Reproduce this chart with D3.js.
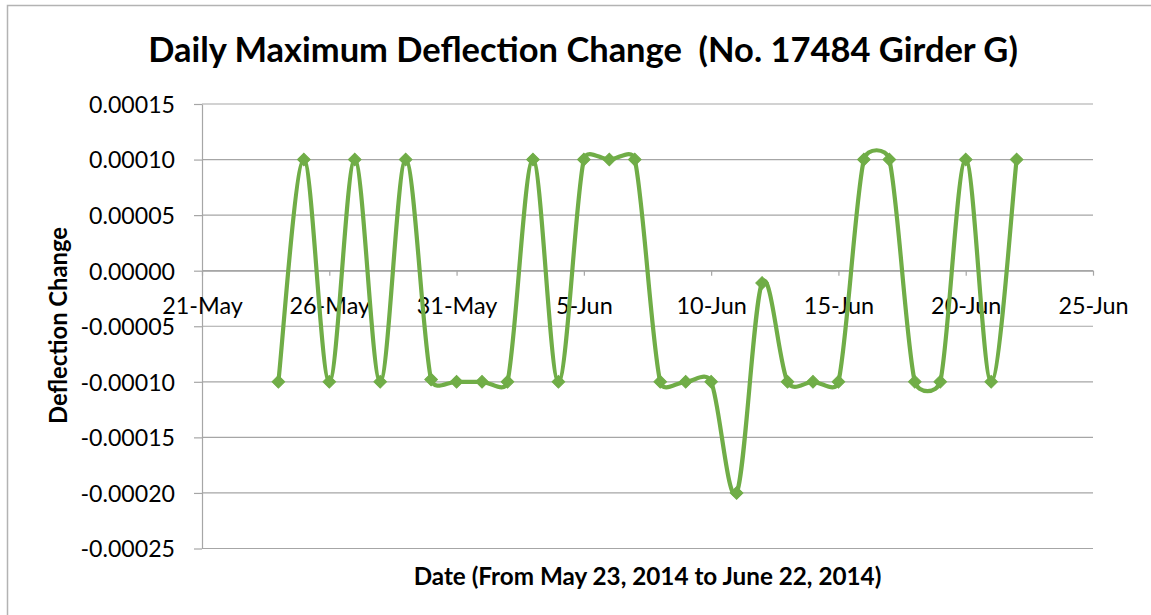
<!DOCTYPE html>
<html>
<head>
<meta charset="utf-8">
<script src="https://cdn.jsdelivr.net/npm/d3@7"></script>
<style>
  html, body { margin: 0; padding: 0; background: #fff; }
  svg { display: block; }
  text { font-family: Lato, "Open Sans", "DejaVu Sans", sans-serif; fill: #000; }
</style>
</head>
<body>
<svg id="chart" width="1151" height="615"></svg>
<script>
// ---------------- data ----------------
const dates = [
  "2014-05-24","2014-05-25","2014-05-26","2014-05-27","2014-05-28","2014-05-29",
  "2014-05-30","2014-05-31","2014-06-01","2014-06-02",
  "2014-06-03","2014-06-04","2014-06-05","2014-06-06","2014-06-07",
  "2014-06-08","2014-06-09","2014-06-10","2014-06-11","2014-06-12",
  "2014-06-13","2014-06-14","2014-06-15",
  "2014-06-16","2014-06-17","2014-06-18","2014-06-19","2014-06-20","2014-06-21","2014-06-22"
];
const deflection = [
  -0.0001, 0.0001, -0.0001, 0.0001, -0.0001, 0.0001,
  -0.000098, -0.0001, -0.0001, -0.0001,
  0.0001, -0.0001, 0.0001, 0.0001, 0.0001,
  -0.0001, -0.0001, -0.0001, -0.0002, -0.000011,
  -0.0001, -0.0001, -0.0001,
  0.0001, 0.0001, -0.0001, -0.0001, 0.0001, -0.0001, 0.0001
];
const xTickLabels = ["2014-05-21","2014-05-26","2014-05-31","2014-06-05","2014-06-10","2014-06-15","2014-06-20","2014-06-25"];
const yTickValues = [-0.00025, -0.0002, -0.00015, -0.0001, -0.00005, 0, 0.00005, 0.0001, 0.00015];
const titleText = "Daily Maximum Deflection Change\u00a0\u00a0(No. 17484 Girder G)";
const xTitle = "Date (From May 23, 2014 to June 22, 2014)";
const yTitle = "Deflection Change";

// ---------------- setup ----------------
const parse = d3.timeParse("%Y-%m-%d");
const points = dates.map((d, i) => ({ date: parse(d), value: deflection[i] }));
const xTicks = xTickLabels.map(parse);

const svg = d3.select("#chart");
const plot = { left: 202, right: 1093, top: 104, bottom: 548.5 };

const x = d3.scaleTime().domain([xTicks[0], xTicks[xTicks.length - 1]]).range([plot.left, plot.right]);
const y = d3.scaleLinear().domain([-0.00025, 0.00015]).range([plot.bottom, plot.top]);

const locale = d3.formatLocale({ decimal: ".", thousands: ",", grouping: [3], currency: ["$", ""], minus: "-" });
const yFmt = locale.format(".5f");
const xFmt = d3.timeFormat("%-d-%b");

const gridColor = "#a6a6a6";
const lineColor = "#70ad47";

svg.append("rect").attr("width", 1151).attr("height", 615).attr("fill", "#fff");
// chart area border
svg.append("rect").attr("x", 7.5).attr("y", 5.5).attr("width", 1160).attr("height", 640)
  .attr("fill", "none").attr("stroke", "#b3b3b3").attr("stroke-width", 1.5);

function fit(sel, target) {
  sel.style("font-size", "100px");
  const w = sel.node().getComputedTextLength();
  const size = 100 * target / w;
  sel.style("font-size", size + "px");
  return size;
}

// gridlines
svg.append("g").selectAll("line").data(yTickValues).join("line")
  .attr("x1", plot.left).attr("x2", plot.right)
  .attr("y1", d => y(d)).attr("y2", d => y(d))
  .attr("stroke", gridColor).attr("stroke-width", 1.2);

// y axis
const yAxisG = svg.append("g").attr("transform", `translate(${plot.left},0)`)
  .call(d3.axisLeft(y).tickValues(yTickValues).tickFormat(yFmt).tickSize(8).tickSizeOuter(0).tickPadding(19));
yAxisG.selectAll("path, line").attr("stroke", gridColor).attr("stroke-width", 1.2);
yAxisG.selectAll("text").attr("font-family", null).attr("dy", "0.36em");
const ySize = fit(yAxisG.selectAll("text").filter(d => d === 0.00015), 86);
yAxisG.selectAll("text").style("font-size", ySize + "px").attr("font-size", null);

// x axis at zero
const xAxisG = svg.append("g").attr("transform", `translate(0,${y(0)})`)
  .call(d3.axisBottom(x).tickValues(xTicks).tickFormat(xFmt).tickSize(5).tickSizeOuter(0));
xAxisG.selectAll("path, line").attr("stroke", gridColor).attr("stroke-width", 1.2);
xAxisG.selectAll("text").attr("font-family", null).attr("y", 43.3).attr("dy", 0);
const xSize = fit(xAxisG.selectAll("text").filter((d, i) => i === 0), 80.7);
xAxisG.selectAll("text").style("font-size", xSize + "px").attr("font-size", null);

// Excel-style smoothed line curve
function ExcelSmooth(context) { this._context = context; }
ExcelSmooth.prototype = {
  areaStart() {}, areaEnd() {},
  lineStart() { this._pts = []; },
  point(px, py) { this._pts.push([+px, +py]); },
  lineEnd() {
    const p = this._pts, c = this._context;
    if (!p.length) return;
    const dist = (a, b) => Math.hypot(b[0] - a[0], b[1] - a[1]);
    c.moveTo(p[0][0], p[0][1]);
    for (let i = 0; i < p.length - 1; i++) {
      const p0 = p[i - 1] || p[i], p1 = p[i], p2 = p[i + 1], p3 = p[i + 2] || p[i + 1];
      const d12 = dist(p1, p2), d02 = dist(p0, p2), d13 = dist(p1, p3);
      let f1 = 1 / 6, f2 = 1 / 6;
      if (d02 / 6 > d12 / 2 && d02 > 0) f1 = d12 / (2 * d02);
      if (d13 / 6 > d12 / 2 && d13 > 0) f2 = d12 / (2 * d13);
      const c1 = [p1[0] + (p2[0] - p0[0]) * f1, p1[1] + (p2[1] - p0[1]) * f1];
      const c2 = [p2[0] - (p3[0] - p1[0]) * f2, p2[1] - (p3[1] - p1[1]) * f2];
      c.bezierCurveTo(c1[0], c1[1], c2[0], c2[1], p2[0], p2[1]);
    }
  }
};
const curveExcel = ctx => new ExcelSmooth(ctx);

const line = d3.line().x(d => x(d.date)).y(d => y(d.value)).curve(curveExcel);
svg.append("path").datum(points).attr("d", line)
  .attr("fill", "none").attr("stroke", lineColor).attr("stroke-width", 4.2)
  .attr("stroke-linejoin", "round").attr("stroke-linecap", "round");

// diamond markers
const diamond = d3.symbol().type(d3.symbolSquare).size(80);
svg.append("g").selectAll("path").data(points).join("path")
  .attr("d", diamond)
  .attr("transform", d => `translate(${x(d.date)},${y(d.value)}) rotate(45)`)
  .attr("fill", lineColor).attr("stroke", lineColor).attr("stroke-width", 1);

// titles
const t = svg.append("text").attr("x", 583).attr("y", 62).attr("text-anchor", "middle")
  .attr("font-weight", "bold").text(titleText);
fit(t, 870);

const xt = svg.append("text").attr("x", (plot.left + plot.right) / 2).attr("y", 585)
  .attr("text-anchor", "middle").attr("font-weight", "bold").text(xTitle);
fit(xt, 468);

const yt = svg.append("text").attr("transform", "translate(67,325.5) rotate(-90)")
  .attr("text-anchor", "middle").attr("font-weight", "bold").text(yTitle);
fit(yt, 197);
</script>
</body>
</html>
